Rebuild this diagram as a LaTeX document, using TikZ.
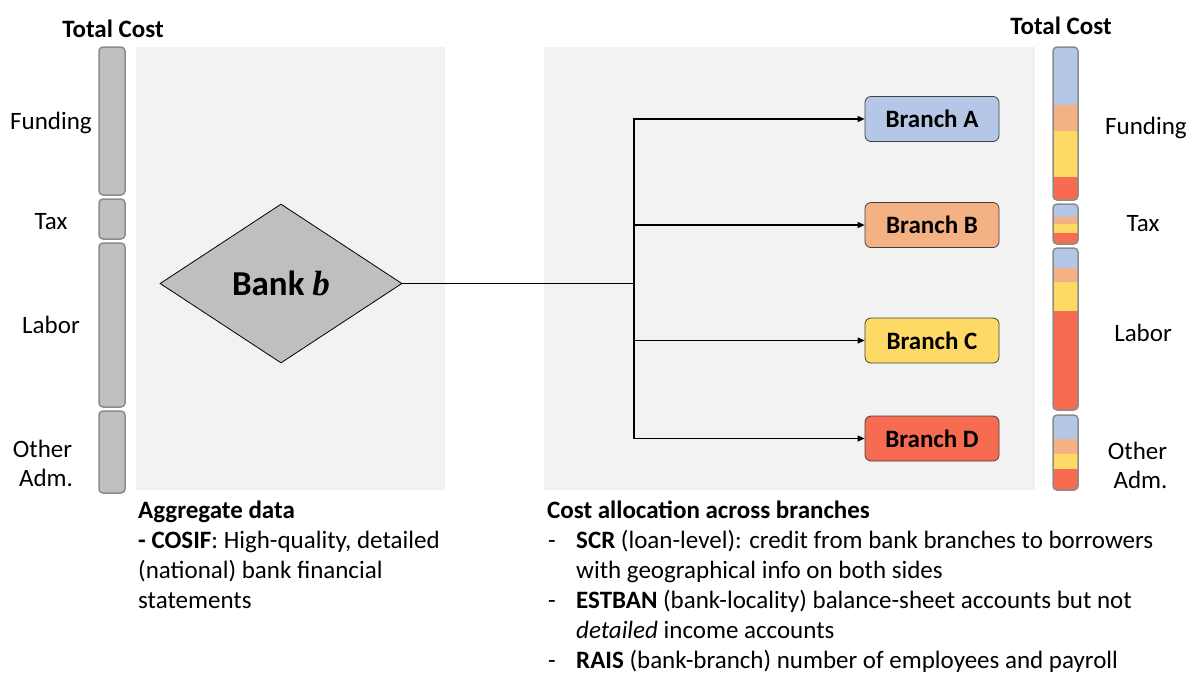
\documentclass[tikz,border=0pt]{standalone}
\usepackage{fontspec}
\setmainfont{Carlito}
\newfontfamily\serifbi{Liberation Serif}
\usetikzlibrary{shapes.geometric,arrows.meta}
\definecolor{panel}{HTML}{F2F2F2}
\definecolor{bargray}{HTML}{BFBFBF}
\definecolor{barline}{HTML}{8C8C8C}
\definecolor{cA}{HTML}{B4C7E7}
\definecolor{cB}{HTML}{F4B183}
\definecolor{cC}{HTML}{FFD966}
\definecolor{cD}{HTML}{F76B50}
\definecolor{edge}{HTML}{404040}
\newcommand\graybar[2]{\draw[barbox, fill=bargray] (99,#1) rectangle (125,#2);}
\newcommand\colbar[5]{%
  \begin{scope}
    \clip[rounded corners=4] (1053,#1) rectangle (1078,#5);
    \fill[cA] (1053,#1) rectangle (1078,#2);
    \fill[cB] (1053,#2) rectangle (1078,#3);
    \fill[cC] (1053,#3) rectangle (1078,#4);
    \fill[cD] (1053,#4) rectangle (1078,#5);
  \end{scope}
  \draw[barbox] (1053,#1) rectangle (1078,#5);}
\begin{document}
\begin{tikzpicture}[x=1pt,y=-1pt,
  txt/.style={font=\fontsize{25}{30}\selectfont, inner sep=0pt},
  btxt/.style={font=\fontsize{25}{30}\selectfont\bfseries, inner sep=0pt},
  barbox/.style={draw=barline, line width=1.5pt, rounded corners=4},
  branchbox/.style={draw=edge, line width=0.8pt, rounded corners=6,
     minimum width=134pt, minimum height=45pt, inner sep=0pt,
     font=\fontsize{25}{28}\selectfont\bfseries},
  conn/.style={line width=1.1pt, black},
  arr/.style={conn, -{Triangle[length=7pt,width=6pt]}}]
\useasboundingbox (0,0) rectangle (1191,673);
\fill[white] (0,0) rectangle (1191,673);
% panels
\fill[panel] (136,47) rectangle (445,490);
\fill[panel] (544,47) rectangle (1035,490);
% left bars
\graybar{47}{195}
\graybar{199}{239}
\graybar{243}{407}
\graybar{411}{493}
% right bars
\colbar{47}{105}{131}{177}{200}
\colbar{204}{217}{224}{233}{244}
\colbar{248}{268}{282}{311}{410}
\colbar{415}{439}{454}{469}{490}
% left labels
\node[btxt, anchor=base] (tcl) at (113,37) {Total Cost};
\node[txt, anchor=base] (lf) at (51,129) {Funding};
\node[txt, anchor=base] (lt) at (51,229) {Tax};
\node[txt, anchor=base] (ll) at (51,333) {Labor};
\node[txt, anchor=base] (lo1) at (42.5,457) {Other};
\node[txt, anchor=base] (lo2) at (46,486) {Adm.};
% right labels
\node[btxt, anchor=base] (tcr) at (1061,34) {Total Cost};
\node[txt, anchor=base] (rf) at (1146,134) {Funding};
\node[txt, anchor=base] (rt) at (1143,231) {Tax};
\node[txt, anchor=base] (rl) at (1143,341) {Labor};
\node[txt, anchor=base] (ro1) at (1137.5,459) {Other};
\node[txt, anchor=base] (ro2) at (1140.5,488) {Adm.};
% diamond
\node[diamond, draw=black, line width=0.8pt, fill=bargray, minimum width=242pt,
  minimum height=159pt, inner sep=0pt, aspect=1.52,
  font=\fontsize{35}{38}\selectfont] (bank) at (281,283.5)
  {\textbf{Bank} {\serifbi\bfseries\itshape b}};
% branches
\node[branchbox, fill=cA] (brA) at (932,119) {Branch A};
\node[branchbox, fill=cB] (brB) at (932,225) {Branch B};
\node[branchbox, fill=cC] (brC) at (932,340.5) {Branch C};
\node[branchbox, fill=cD] (brD) at (932,438.5) {Branch D};
% connectors
\coordinate (junc) at (634,283.5);
\draw[conn] (bank.east) -- (junc);
\draw[arr] (junc) |- (brA.west);
\draw[arr] (junc) |- (brB.west);
\draw[arr] (junc) |- (brC.west);
\draw[arr] (junc) |- (brD.west);
% left text block
\node[btxt, anchor=base west] (ag1) at (138,518) {Aggregate data};
\node[txt, anchor=base west] (ag2) at (138,548) {\textbf{- COSIF}: High-quality, detailed};
\node[txt, anchor=base west] (ag3) at (138,578) {(national) bank financial};
\node[txt, anchor=base west] (ag4) at (138,608) {statements};
% right text block
\node[btxt, anchor=base west] (ca1) at (547,518) {Cost allocation across branches};
\node[txt, anchor=base west] (d1) at (548,548) {-};
\node[txt, anchor=base west] (ca2) at (576,548) {\textbf{SCR} (loan-level): credit from bank branches to borrowers};
\node[txt, anchor=base west] (ca3) at (576,578) {with geographical info on both sides};
\node[txt, anchor=base west] (d2) at (548,608) {-};
\node[txt, anchor=base west] (ca4) at (576,608) {\textbf{ESTBAN} (bank-locality) balance-sheet accounts but not};
\node[txt, anchor=base west] (ca5) at (576,638) {\textit{detailed} income accounts};
\node[txt, anchor=base west] (d3) at (548,668) {-};
\node[txt, anchor=base west] (ca6) at (576,668) {\textbf{RAIS} (bank-branch) number of employees and payroll};
\end{tikzpicture}
\end{document}
